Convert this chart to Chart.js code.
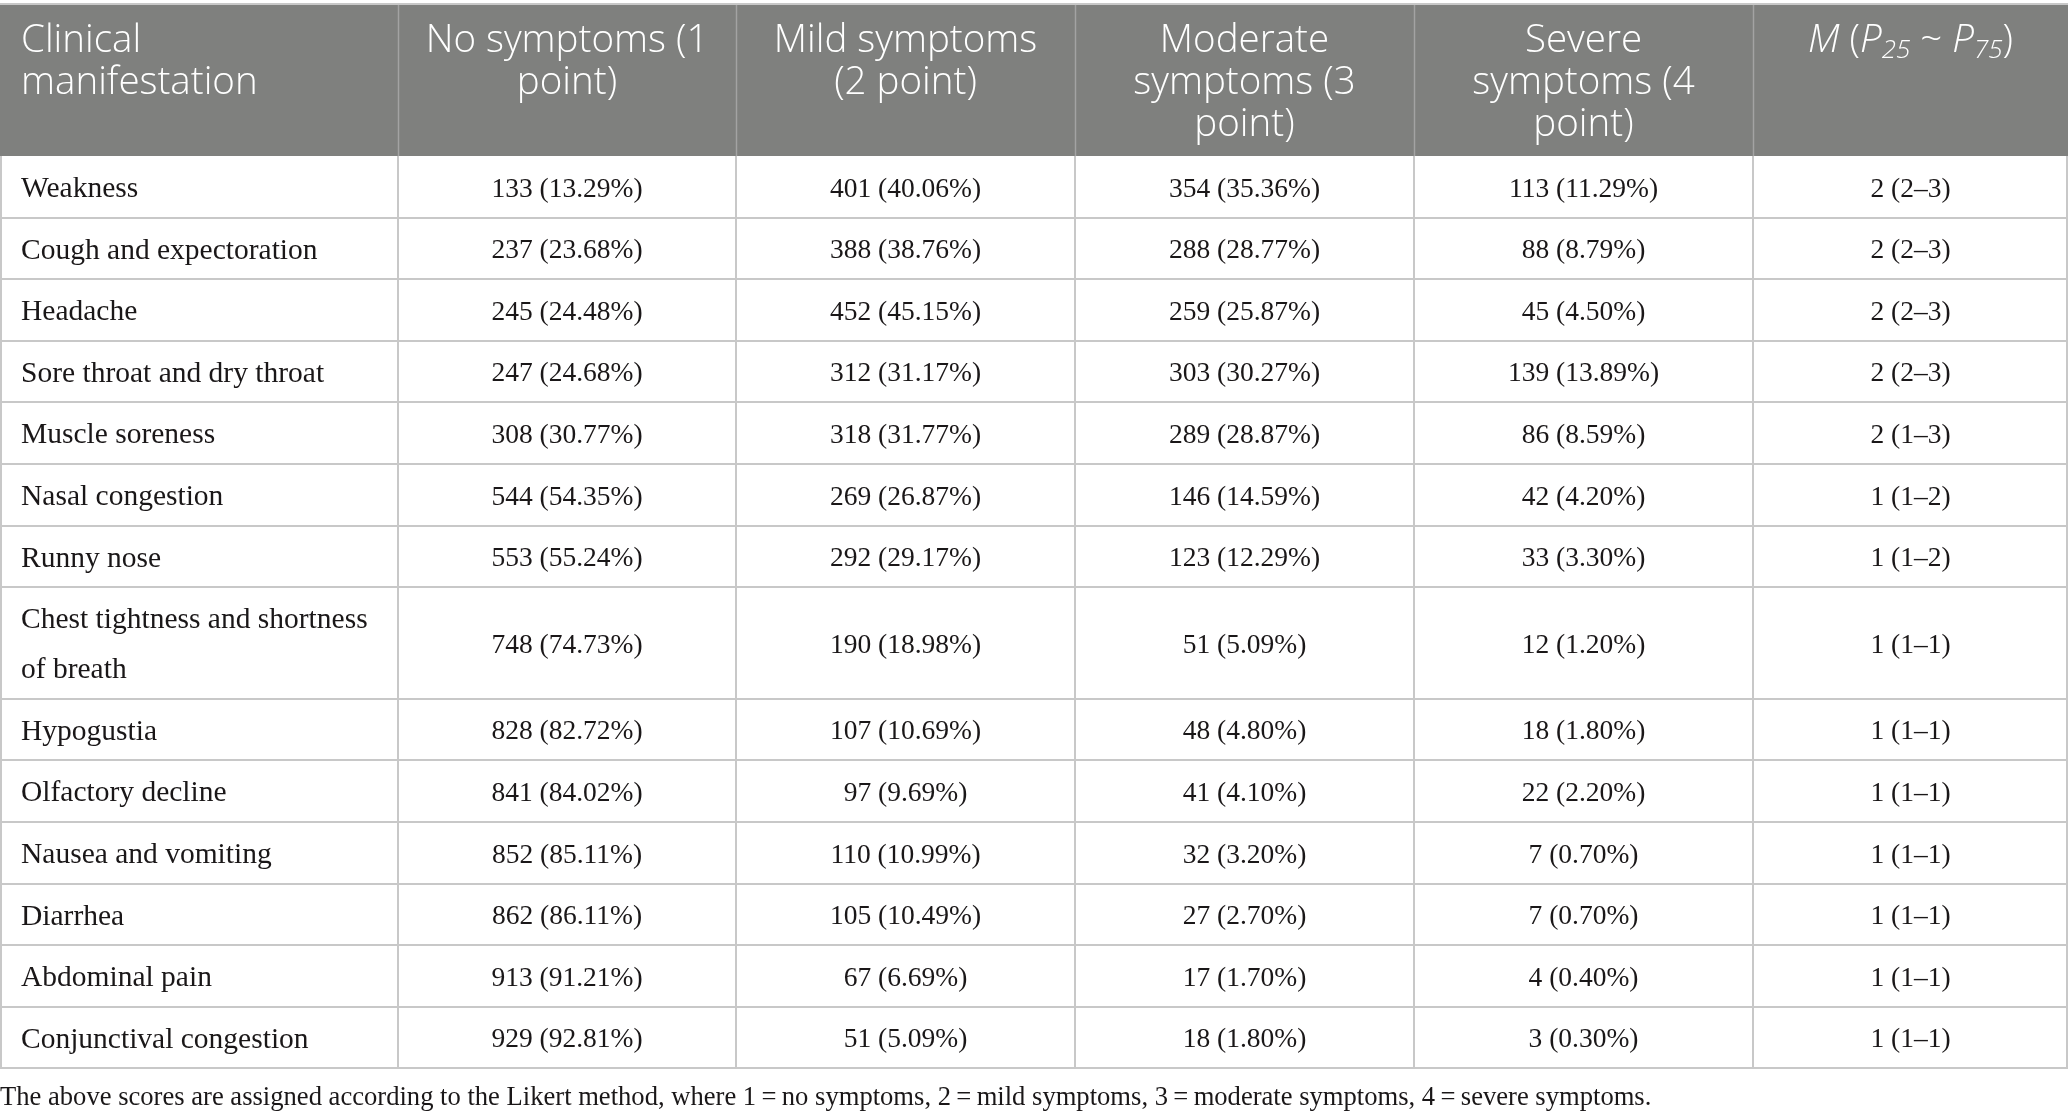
<!DOCTYPE html>
<html>
<head>
<meta charset="utf-8">
<script src="https://cdn.jsdelivr.net/npm/chart.js@4"></script>
<style>
  html, body { margin: 0; padding: 0; background: #fff; }
  #wrap { width: 2068px; height: 1118px; }
</style>
</head>
<body>
<div id="wrap"><canvas id="tableChart" width="2068" height="1118"></canvas></div>
<script>
// table data
const headers = [
  ["Clinical", "manifestation"],
  ["No symptoms (1", "point)"],
  ["Mild symptoms", "(2 point)"],
  ["Moderate", "symptoms (3", "point)"],
  ["Severe", "symptoms (4", "point)"],
  null // M (P25 ~ P75), drawn with italics and subscripts
];
const symptoms = [
  ["Weakness"],
  ["Cough and expectoration"],
  ["Headache"],
  ["Sore throat and dry throat"],
  ["Muscle soreness"],
  ["Nasal congestion"],
  ["Runny nose"],
  ["Chest tightness and shortness", "of breath"],
  ["Hypogustia"],
  ["Olfactory decline"],
  ["Nausea and vomiting"],
  ["Diarrhea"],
  ["Abdominal pain"],
  ["Conjunctival congestion"]
];
const noneN = [133, 237, 245, 247, 308, 544, 553, 748, 828, 841, 852, 862, 913, 929];
const nonePct = [13.29, 23.68, 24.48, 24.68, 30.77, 54.35, 55.24, 74.73, 82.72, 84.02, 85.11, 86.11, 91.21, 92.81];
const mildN = [401, 388, 452, 312, 318, 269, 292, 190, 107, 97, 110, 105, 67, 51];
const mildPct = [40.06, 38.76, 45.15, 31.17, 31.77, 26.87, 29.17, 18.98, 10.69, 9.69, 10.99, 10.49, 6.69, 5.09];
const moderateN = [354, 288, 259, 303, 289, 146, 123, 51, 48, 41, 32, 27, 17, 18];
const moderatePct = [35.36, 28.77, 25.87, 30.27, 28.87, 14.59, 12.29, 5.09, 4.80, 4.10, 3.20, 2.70, 1.70, 1.80];
const severeN = [113, 88, 45, 139, 86, 42, 33, 12, 18, 22, 7, 7, 4, 3];
const severePct = [11.29, 8.79, 4.50, 13.89, 8.59, 4.20, 3.30, 1.20, 1.80, 2.20, 0.70, 0.70, 0.40, 0.30];
const medianM = [2, 2, 2, 2, 2, 1, 1, 1, 1, 1, 1, 1, 1, 1];
const p25 = [2, 2, 2, 2, 1, 1, 1, 1, 1, 1, 1, 1, 1, 1];
const p75 = [3, 3, 3, 3, 3, 2, 2, 1, 1, 1, 1, 1, 1, 1];
const footnote = "The above scores are assigned according to the Likert method, where 1\u2009=\u2009no symptoms, 2\u2009=\u2009mild symptoms, 3\u2009=\u2009moderate symptoms, 4\u2009=\u2009severe symptoms.";

// layout (scale units)
const colWidths = [398, 338, 339, 339, 339, 315];
const tableTop = 4;
const headerH = 152;
const rowH = 61.6;
const lineH = 50;

const HEAD_BG = "#7f807e";
const GRID = "#c8c8c8";
const TEXT = "#1a1718";
const serif = '"Liberation Serif", "DejaVu Serif", serif';
const sans = '"Open Sans", "Lato", sans-serif';
const HEAD_PX = 38.5;

const colEdges = [0];
colWidths.forEach(w => colEdges.push(colEdges[colEdges.length - 1] + w));
const rowEdges = [tableTop, tableTop + headerH];
symptoms.forEach(lines => {
  const h = lines.length > 1 ? rowH + (lines.length - 1) * lineH : rowH;
  rowEdges.push(rowEdges[rowEdges.length - 1] + h);
});

const pct = v => v.toFixed(2) + "%";
const cellText = [
  symptoms,
  noneN.map((n, i) => n + " (" + pct(nonePct[i]) + ")"),
  mildN.map((n, i) => n + " (" + pct(mildPct[i]) + ")"),
  moderateN.map((n, i) => n + " (" + pct(moderatePct[i]) + ")"),
  severeN.map((n, i) => n + " (" + pct(severePct[i]) + ")"),
  medianM.map((m, i) => m + " (" + p25[i] + "\u2013" + p75[i] + ")")
];

// one dataset per column, one point per cell
const datasets = cellText.map((texts, c) => ({
  label: c,
  data: texts.map((t, r) => ({
    x: c === 0 ? colEdges[0] + 21 : (colEdges[c] + colEdges[c + 1]) / 2,
    y: (rowEdges[r + 1] + rowEdges[r + 2]) / 2 + 2.5,
    text: t
  })),
  pointRadius: 0
}));

const tablePlugin = {
  id: "tablePlugin",
  beforeDatasetsDraw(chart) {
    const ctx = chart.ctx;
    const xs = chart.scales.x, ys = chart.scales.y;
    const X = v => xs.getPixelForValue(v);
    const Y = v => ys.getPixelForValue(v);
    const left = X(colEdges[0]), right = X(colEdges[colEdges.length - 1]);
    ctx.save();
    // header background
    ctx.fillStyle = HEAD_BG;
    ctx.fillRect(left, Y(rowEdges[0]), right - left, Y(rowEdges[1]) - Y(rowEdges[0]));
    // header column dividers
    ctx.strokeStyle = "#a3a3a3";
    ctx.lineWidth = 1.5;
    for (let c = 1; c < colEdges.length - 1; c++) {
      ctx.beginPath();
      ctx.moveTo(Math.round(X(colEdges[c])) + 0.5, Y(rowEdges[0]));
      ctx.lineTo(Math.round(X(colEdges[c])) + 0.5, Y(rowEdges[1]));
      ctx.stroke();
    }
    // body grid
    ctx.strokeStyle = GRID;
    ctx.lineWidth = 2;
    for (let r = 0; r < rowEdges.length; r++) {
      if (r === 1) continue;
      const y = Math.round(Y(rowEdges[r]));
      ctx.beginPath();
      ctx.moveTo(left, y);
      ctx.lineTo(right, y);
      ctx.stroke();
    }
    for (let c = 0; c < colEdges.length; c++) {
      const x = Math.min(Math.max(Math.round(X(colEdges[c])), left + 1), right - 1);
      ctx.beginPath();
      ctx.moveTo(x, Y(rowEdges[1]));
      ctx.lineTo(x, Y(rowEdges[rowEdges.length - 1]));
      ctx.stroke();
    }
    // header labels
    ctx.fillStyle = "#ffffff";
    ctx.font = "300 " + HEAD_PX + "px " + sans;
    ctx.textBaseline = "middle";
    const firstLine = Y(rowEdges[0] + 37);
    headers.forEach((lines, c) => {
      if (!lines) return;
      lines.forEach((ln, k) => {
        const y = firstLine + k * 42;
        if (c === 0) {
          ctx.textAlign = "left";
          ctx.fillText(ln, X(colEdges[0] + 21), y);
        } else {
          ctx.textAlign = "center";
          ctx.fillText(ln, X((colEdges[c] + colEdges[c + 1]) / 2), y);
        }
      });
    });
    // M (P25 ~ P75)
    const big = HEAD_PX + "px " + sans, small = "26px " + sans;
    const parts = [
      { t: "M", f: "italic 300 " + big, dy: 0 },
      { t: " (", f: "300 " + big, dy: 0 },
      { t: "P", f: "italic 300 " + big, dy: 0 },
      { t: "25", f: "italic 300 " + small, dy: 10 },
      { t: " ~ ", f: "300 " + big, dy: 0 },
      { t: "P", f: "italic 300 " + big, dy: 0 },
      { t: "75", f: "italic 300 " + small, dy: 10 },
      { t: ")", f: "300 " + big, dy: 0 }
    ];
    let total = 0;
    parts.forEach(p => { ctx.font = p.f; p.w = ctx.measureText(p.t).width; total += p.w; });
    let px = X((colEdges[5] + colEdges[6]) / 2) - total / 2;
    ctx.textAlign = "left";
    parts.forEach(p => {
      ctx.font = p.f;
      ctx.fillText(p.t, px, firstLine + p.dy);
      px += p.w;
    });
    // footnote
    ctx.fillStyle = TEXT;
    ctx.font = "26.6px " + serif;
    ctx.textAlign = "left";
    ctx.fillText(footnote, left, Y(rowEdges[rowEdges.length - 1] + 30));
    ctx.restore();
  },
  afterDatasetsDraw(chart) {
    const ctx = chart.ctx;
    ctx.save();
    ctx.fillStyle = TEXT;
    ctx.textBaseline = "middle";
    chart.data.datasets.forEach((ds, c) => {
      const meta = chart.getDatasetMeta(c);
      ctx.font = (c === 0 ? "29.5px " : "27.5px ") + serif;
      meta.data.forEach((pt, r) => {
        const t = ds.data[r].text;
        ctx.textAlign = c === 0 ? "left" : "center";
        if (Array.isArray(t)) {
          const off = (t.length - 1) * lineH / 2;
          t.forEach((ln, k) => ctx.fillText(ln, pt.x, pt.y - off + k * lineH));
        } else {
          ctx.fillText(t, pt.x, pt.y);
        }
      });
    });
    ctx.restore();
  }
};

new Chart(document.getElementById("tableChart"), {
  type: "scatter",
  data: { datasets: datasets },
  options: {
    responsive: false,
    animation: false,
    devicePixelRatio: 1,
    layout: { padding: 0 },
    plugins: { legend: { display: false }, tooltip: { enabled: false } },
    scales: {
      x: { type: "linear", display: false, min: 0, max: colEdges[colEdges.length - 1] },
      y: { type: "linear", display: false, reverse: true, min: 0, max: 1118 }
    }
  },
  plugins: [tablePlugin]
});
</script>
</body>
</html>
